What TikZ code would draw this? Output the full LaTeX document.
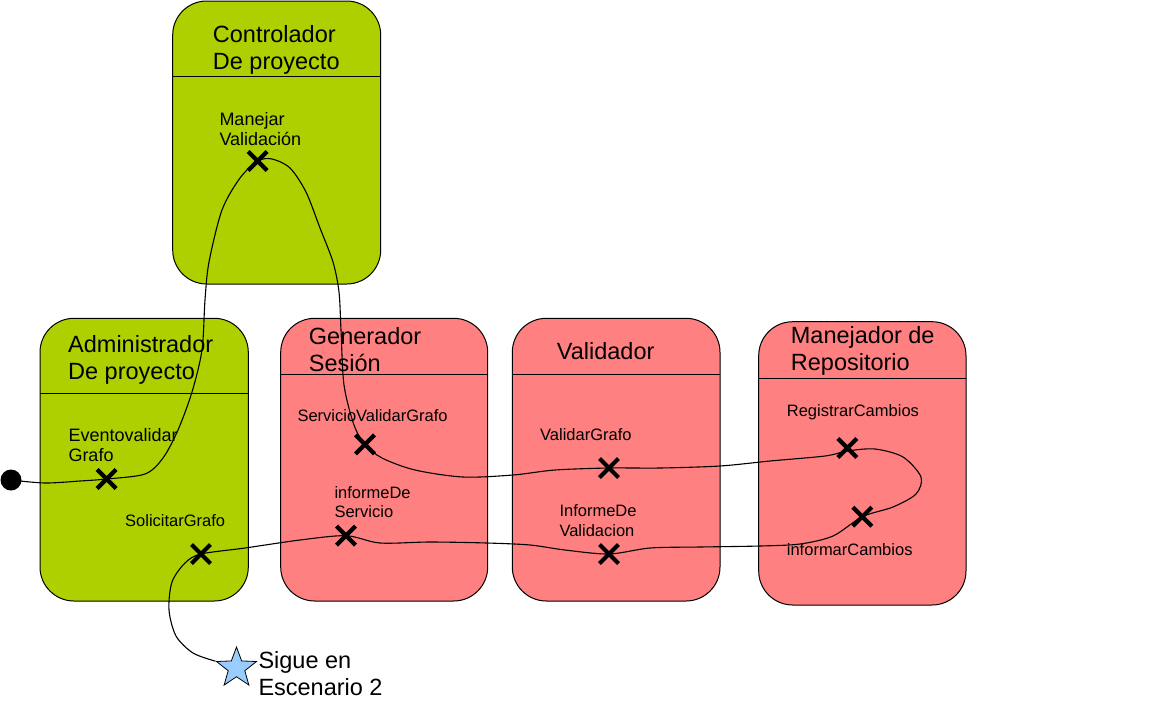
\documentclass[tikz,border=0pt]{standalone}
\usepackage{fontspec}
\setmainfont{Liberation Sans}
\usetikzlibrary{shapes.geometric,shapes.misc}
\definecolor{grn}{RGB}{174,207,0}
\definecolor{pnk}{RGB}{255,128,128}
\definecolor{sky}{RGB}{153,204,255}
\pgfdeclarelayer{back}
\pgfdeclarelayer{mid}
\pgfsetlayers{back,mid,main}
\begin{document}
\begin{tikzpicture}[x=1pt,y=-1pt,
  lane/.style={draw=black, line width=1pt, rounded corners=34pt, inner sep=0pt, outer sep=0pt, anchor=north west},
  glane/.style={lane, fill=grn},
  plane/.style={lane, fill=pnk},
  divider/.style={draw=black, line width=1pt},
  title/.style={anchor=base west, inner sep=0pt, align=left, font=\fontsize{23.5}{27}\selectfont},
  lbl/.style={anchor=base west, inner sep=0pt, align=left, font=\fontsize{18}{20.5}\selectfont},
  slbl/.style={anchor=base west, inner sep=0pt, align=left, font=\fontsize{16.5}{19.7}\selectfont},
  xmark/.style={draw=black, cross out, line width=4.2pt, minimum size=19pt, inner sep=0pt, outer sep=0pt},
  flow/.style={draw=black, line width=1.1pt},
  startdot/.style={circle, fill=black, minimum size=21pt, inner sep=0pt},
  goal/.style={star, star points=5, star point ratio=2.4, minimum size=42pt, inner sep=0pt, draw=black, line width=0.8pt, fill=sky}
]
\useasboundingbox (0,0) rectangle (1154,710);

\begin{pgfonlayer}{back}
\node[glane, minimum width=208pt, minimum height=283pt] (ctrl) at (172.7,1) {};
\node[glane, minimum width=208.3pt, minimum height=282.7pt] (admin) at (40,318.3) {};
\node[plane, minimum width=207pt, minimum height=282.7pt] (gen) at (280.7,318.3) {};
\node[plane, minimum width=207.7pt, minimum height=282.7pt] (val) at (512.3,318.3) {};
\node[plane, minimum width=207.3pt, minimum height=283.3pt] (rep) at (758.7,321.7) {};
\draw[divider] (ctrl.west |- 0,76) -- (ctrl.east |- 0,76);
\draw[divider] (admin.west |- 0,393.3) -- (admin.east |- 0,393.3);
\draw[divider] (gen.west |- 0,374) -- (gen.east |- 0,374);
\draw[divider] (val.west |- 0,374) -- (val.east |- 0,374);
\draw[divider] (rep.west |- 0,378.7) -- (rep.east |- 0,378.7);
\end{pgfonlayer}

% titles (anchor = baseline of the last line)
\node[title] (tctrl) at (212.7,69) {Controlador\\De proyecto};
\node[title] (tadmin) at (68,379) {Administrador\\De proyecto};
\node[title] (tgen) at (308.7,371) {Generador\\Sesión};
\node[title] (tval) at (556.7,359) {Validador};
\node[title] (trep) at (790.7,370.7) {Manejador de\\Repositorio};

% labels
\node[lbl] (lman) at (219.3,145.7) {Manejar\\Validación};
\node[lbl] (lev) at (68.3,461.7) {Eventovalidar\\Grafo};
\node[slbl] (lsol) at (125,526.7) {SolicitarGrafo};
\node[slbl] (lserv) at (297.3,421) {ServicioValidarGrafo};
\node[slbl] (linf) at (334.3,517.7) {informeDe\\Servicio};
\node[slbl] (lvg) at (540,440) {ValidarGrafo};
\node[slbl] (liv) at (559.3,536) {InformeDe\\Validacion};
\node[slbl] (lreg) at (786.7,416.7) {RegistrarCambios};
\node[slbl] (linfc) at (786.7,555) {informarCambios};

% marks
\node[xmark] (x1) at (106.7,479) {};
\node[xmark] (x2) at (257.7,161) {};
\node[xmark] (x3) at (365,444.3) {};
\node[xmark] (x4) at (609,468) {};
\node[xmark] (x5) at (847.3,448) {};
\node[xmark] (x6) at (862.3,516.7) {};
\node[xmark] (x7) at (609,554) {};
\node[xmark] (x8) at (346,535.7) {};
\node[xmark] (x9) at (201,554) {};

\node[startdot] (start) at (11,480) {};
\node[goal] (end) at (236.5,668) {};
\node[title] (lend) at (258.3,695) {Sigue en\\Escenario 2};

\begin{pgfonlayer}{mid}
\draw[flow] plot[smooth, tension=0.5] coordinates {
  (start.center) (45,483) (80,481) (x1.center) (145,474) (163,458) (178,430)
  (192,392) (202,350) (205,300) (209,262) (222,210) (240,178) (x2.center)
  (272,159) (290,168) (306,192) (320,228) (333,262) (339,292) (341,330)
  (344,385) (354,425) (x3.center) (382,458) (415,470) (463,477) (513,475)
  (555,470) (x4.center) (660,468) (720,466) (770,461) (825,456) (847.3,451)
  (875,449) (903,457) (921,477) (916,494) (893,507) (x6.center) (833,536)
  (800,544) (760,546) (700,547) (650,548) (x7.center) (565,550) (530,545)
  (487,543) (430,542) (380,543) (x8.center) (300,540) (245,548) (x9.center)
  (185,563) (172,582) (169,610) (176,636) (193,653) (end.outer point 2)};
\end{pgfonlayer}
\end{tikzpicture}
\end{document}
